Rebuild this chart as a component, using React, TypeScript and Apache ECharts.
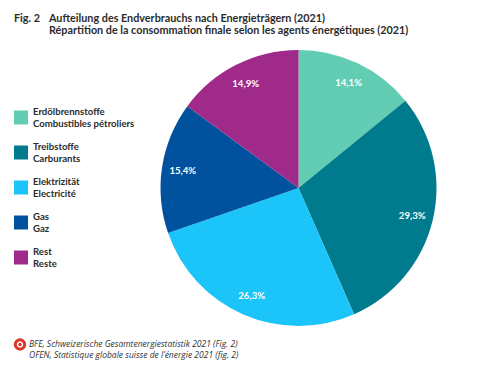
import React, { useEffect, useRef } from "react";
import * as echarts from "echarts";

const categories = [
  "Erdölbrennstoffe\nCombustibles pétroliers",
  "Treibstoffe\nCarburants",
  "Elektrizität\nElectricité",
  "Gas\nGaz",
  "Rest\nReste",
];
const values = [14.1, 29.3, 26.3, 15.4, 14.9];
const colors = ["#62cdb3", "#007b8e", "#1bc5f9", "#00529f", "#a02a8a"];
const figLabel = "Fig. 2";
const titleLines = "Aufteilung des Endverbrauchs nach Energieträgern (2021)\nRépartition de la consommation finale selon les agents énergétiques (2021)";
const sourceLines = "BFE, Schweizerische Gesamtenergiestatistik 2021 (Fig. 2)\nOFEN, Statistique globale suisse de l’énergie 2021 (fig. 2)";

const FONT = "Lato, 'Open Sans', sans-serif";
const CENTER = ["298.5", "188"];

export default function App() {
  const ref = useRef<HTMLDivElement>(null);
  useEffect(() => {
    const chart = echarts.init(ref.current!, null, { renderer: "svg" });
    const pieData = categories.map((name, i) => ({
      name,
      value: values[i],
      itemStyle: { color: colors[i] },
    }));
    chart.setOption({
      animation: false,
      backgroundColor: "#ffffff",
      title: [
        {
          text: figLabel,
          left: 14,
          top: 11,
          padding: 0,
          textStyle: { fontFamily: FONT, fontSize: 10.8, fontWeight: 700, color: "#2b2b2b", lineHeight: 12.5 },
        },
        {
          text: titleLines,
          left: 49,
          top: 11,
          padding: 0,
          textStyle: { fontFamily: FONT, fontSize: 10.8, fontWeight: 700, color: "#2b2b2b", lineHeight: 12.5 },
        },
      ],
      legend: {
        orient: "vertical",
        left: 14,
        top: 105,
        padding: 0,
        itemWidth: 14,
        itemHeight: 14,
        itemGap: 10,
        icon: "rect",
        selectedMode: false,
        data: categories,
        textStyle: { fontFamily: FONT, fontSize: 9.6, fontWeight: 700, color: "#2b2b2b", lineHeight: 12.5 },
      },
      graphic: [
        { type: "ring", shape: { cx: 20, cy: 344.5, r: 6.2, r0: 3.2 }, style: { fill: "#d9362b" } },
        { type: "circle", shape: { cx: 20, cy: 344.5, r: 1.8 }, style: { fill: "#d9362b" } },
        {
          type: "text",
          x: 29,
          y: 338,
          style: {
            text: sourceLines,
            font: `italic 8.5px 'Open Sans', sans-serif`,
            lineHeight: 11,
            fill: "#333333",
          },
        },
      ],
      series: [
        {
          type: "pie",
          center: CENTER,
          radius: [0, 138],
          startAngle: 90,
          clockwise: true,
          silent: true,
          data: pieData,
          label: { show: false },
          labelLine: { show: false },
          itemStyle: { borderWidth: 0 },
        },
        {
          type: "pie",
          center: CENTER,
          radius: [90, 138],
          startAngle: 90,
          clockwise: true,
          silent: true,
          legendHoverLink: false,
          data: categories.map((name, i) => ({ name, value: values[i] })),
          itemStyle: { color: "rgba(0,0,0,0)", borderWidth: 0 },
          labelLine: { show: false },
          label: {
            show: true,
            position: "inside",
            formatter: (p: any) => `${String(p.value).replace(".", ",")}%`,
            fontFamily: FONT,
            fontSize: 9.6,
            fontWeight: 700,
            color: "#ffffff",
          },
        },
      ],
    });
    return () => chart.dispose();
  }, []);
  return <div ref={ref} style={{ position: "absolute", left: 0, top: 0, width: 480, height: 375 }} />;
}
